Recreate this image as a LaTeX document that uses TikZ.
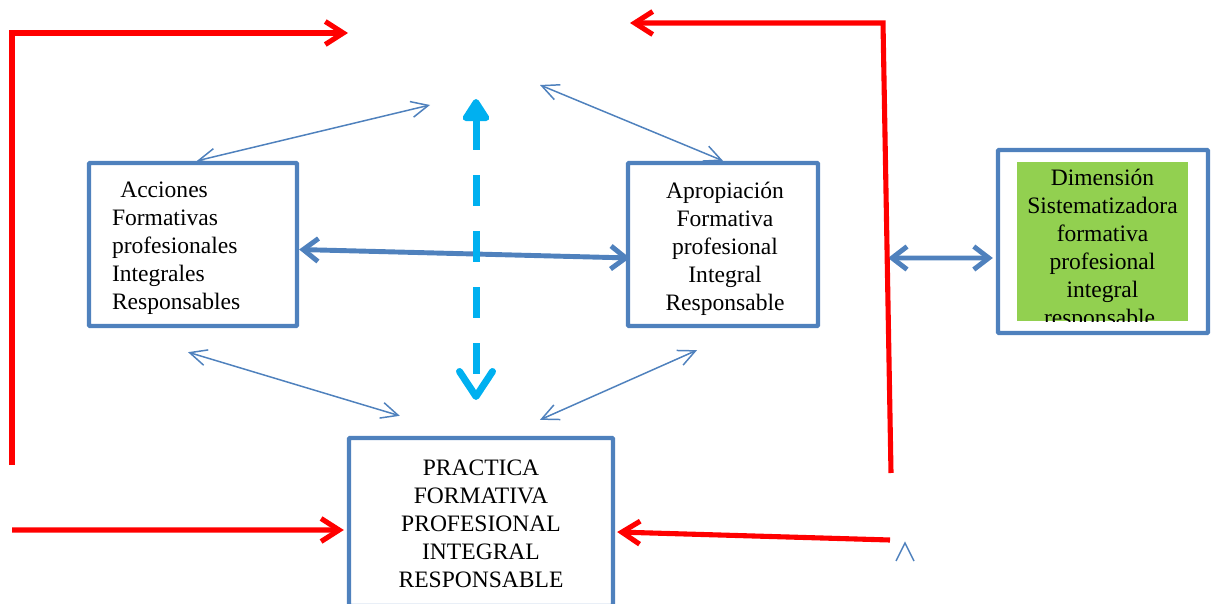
\documentclass[tikz,border=0pt]{standalone}
\usepackage{fontspec}
\setmainfont{Liberation Serif}
\usetikzlibrary{arrows.meta}

\definecolor{boxblue}{RGB}{79,129,189}
\definecolor{skyblue}{RGB}{0,176,240}
\definecolor{dimgreen}{RGB}{146,208,80}

\begin{document}
\begin{tikzpicture}[x=0.02cm, y=-0.02cm,
	every node/.style={font=\fontsize{13.4}{15.9}\selectfont, inner sep=0pt},
	box/.style={draw=boxblue, line width=2.5pt, rounded corners=0.5pt},
	link/.style={boxblue, line width=0.85pt, {Straight Barb[length=3.4mm, width=3.2mm]}-{Straight Barb[length=3.4mm, width=3.2mm]}},
	biglink/.style={boxblue, line width=2.8pt, line cap=round, {Straight Barb[length=3mm, width=4.6mm]}-{Straight Barb[length=3mm, width=4.6mm]}},
	loop/.style={red, line width=2.9pt, -{Straight Barb[length=3.6mm, width=4.6mm]}}]
	\useasboundingbox (0,0) rectangle (1216,604);
	\clip (0,0) rectangle (1216,604);

	\node[box, minimum width=4.16cm, minimum height=3.26cm] (acc) at (193,244.5) {};
	\node[text width=3.24cm, align=left] (acctxt) at ([yshift=-0.08cm]acc.center)
		{\hspace{0.35em}Acciones\\Formativas\\profesionales\\Integrales\\Responsables};
	\node[box, minimum width=3.8cm, minimum height=3.26cm] (apr) at (723,244.5) {};
	\node[align=center] (aprtxt) at ([shift={(0.04cm,-0.08cm)}]apr.center)
		{Apropiación\\Formativa\\profesional\\Integral\\Responsable};
	\node[box, minimum width=5.28cm, minimum height=3.36cm] (pra) at (481,522) {};
	\node[align=center] (pratxt) at ([yshift=-0.03cm]pra.center)
		{PRACTICA\\FORMATIVA\\PROFESIONAL\\INTEGRAL\\RESPONSABLE};
	\node[box, minimum width=4.2cm, minimum height=3.66cm] (dim) at (1103,241.5) {};
	\begin{scope}
		\clip (1017,162) rectangle (1188,321);
		\fill[dimgreen] (1017,162) rectangle (1188,321);
		\node[align=center] (dimtxt) at (1102.5,249.5)
			{Dimensión\\Sistematizadora\\formativa\\profesional\\integral\\responsable.};
	\end{scope}

	\coordinate (upl) at (430,105);
	\coordinate (upr) at (540,85);
	\coordinate (mid) at (476,99);
	\coordinate (midb) at (476,400);
	\coordinate (split) at (888,258);

	\draw[biglink] ([yshift=-0.1cm]acc.east) -- ([xshift=0.08cm, yshift=-0.27cm]apr.west);
	\draw[biglink] (split) -- ([xshift=-0.06cm, yshift=-0.33cm]dim.west);
	\draw[skyblue, line width=0.14cm, dash pattern=on 0.62cm off 0.5cm, {Triangle[round, length=5mm, width=6mm]}-{Straight Barb[round, length=5mm, width=6.6mm]}] (mid) -- (midb);

	\draw[link] ([xshift=0.08cm]acc.north) -- (upl);
	\draw[link] (upr) -- (apr.north);
	\draw[link] ([shift={(-0.1cm,-0.48cm)}]acc.south) -- ([shift={(1.06cm,0.4cm)}]pra.north west);
	\draw[link] ([shift={(1.18cm,0.32cm)}]pra.north) -- ([shift={(-0.52cm,-0.44cm)}]apr.south);

	\coordinate (lbot) at (12,465);
	\coordinate (ltop) at (12,33);
	\coordinate (ltopend) at (348,33);
	\coordinate (rbot) at (891,473);
	\coordinate (rtop) at (883,23);
	\coordinate (rtopend) at (630,23);
	\coordinate (lin) at (12,530);
	\coordinate (rin) at (890,540);
	\draw[loop] (lbot) -- (ltop) -- (ltopend);
	\draw[loop] (rbot) -- (rtop) -- (rtopend);
	\draw[loop] (lin) -- ([xshift=-0.06cm, yshift=-0.16cm]pra.west);
	\draw[loop] (rin) -- ([xshift=0.04cm, yshift=-0.2cm]pra.east);

	\draw[boxblue, line width=0.85pt] (896,561) -- (905,543) -- (914,561);
\end{tikzpicture}
\end{document}
